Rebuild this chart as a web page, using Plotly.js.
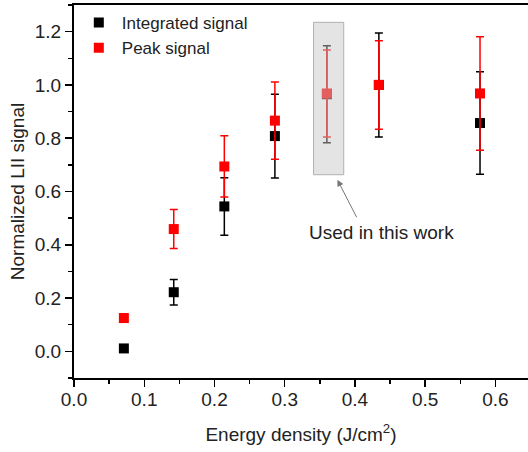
<!DOCTYPE html>
<html>
<head>
<meta charset="utf-8">
<script src="https://cdn.plot.ly/plotly-3.0.1.min.js"></script>
<style>html,body{margin:0;padding:0;background:#fff;}#chart{width:528px;height:452px;}</style>
</head>
<body>
<div id="chart"></div>
<script>
// Energy density (J/cm^2)
const energyDensity = [0.071, 0.142, 0.214, 0.286, 0.360, 0.434, 0.578];
// Integrated signal
const integratedSignal = [0.011, 0.222, 0.544, 0.808, 0.965, 1.000, 0.857];
const integratedError  = [0.010, 0.048, 0.108, 0.157, 0.182, 0.195, 0.192];
// Peak signal
const peakSignal = [0.125, 0.459, 0.694, 0.866, 0.968, 1.000, 0.968];
const peakError  = [0.015, 0.073, 0.115, 0.145, 0.163, 0.166, 0.213];

const legendNames = ['Integrated signal', 'Peak signal'];
const highlightX = [0.341, 0.384];
const highlightY = [0.663, 1.235];
const annotationText = 'Used in this work';

const font = 'Arial, "Liberation Sans", sans-serif';
const txt = '#222222';

const traces = [
  {
    x: energyDensity, y: integratedSignal, name: legendNames[0],
    type: 'scatter', mode: 'markers',
    marker: {symbol: 'square', size: 10, color: '#000000'},
    error_y: {type: 'data', array: integratedError, visible: true, color: '#000000', thickness: 1.5, width: 4}
  },
  {
    x: energyDensity, y: peakSignal, name: legendNames[1],
    type: 'scatter', mode: 'markers',
    marker: {symbol: 'square', size: 10, color: '#ff0000'},
    error_y: {type: 'data', array: peakError, visible: true, color: '#ff0000', thickness: 1.5, width: 4}
  }
];

const layout = {
  width: 528, height: 452,
  margin: {l: 74, r: 0, t: 5, b: 74, pad: 0},
  paper_bgcolor: '#ffffff', plot_bgcolor: '#ffffff',
  font: {family: font, size: 18, color: txt},
  showlegend: true,
  legend: {x: 0.004, y: 1.0, xanchor: 'left', yanchor: 'top', bgcolor: 'rgba(0,0,0,0)',
           font: {family: font, size: 17, color: txt}, tracegroupgap: 0, itemwidth: 36},
  xaxis: {
    range: [0, 0.6463], tickvals: [0, 0.1, 0.2, 0.3, 0.4, 0.5, 0.6],
    ticktext: ['0.0', '0.1', '0.2', '0.3', '0.4', '0.5', '0.6'],
    ticks: 'outside', ticklen: 7, tickwidth: 1.5, tickcolor: '#000', ticklabelstandoff: -4,
    minor: {dtick: 0.05, tick0: 0, ticks: 'outside', ticklen: 4, tickwidth: 1.5, tickcolor: '#000'},
    showline: true, linewidth: 2, linecolor: '#000', mirror: true,
    showgrid: false, zeroline: false,
    tickfont: {family: font, size: 19, color: txt},
    title: {text: 'Energy density (J/cm<sup>2</sup>)', font: {family: font, size: 19, color: txt}, standoff: 19}
  },
  yaxis: {
    range: [-0.1, 1.3], tickvals: [0, 0.2, 0.4, 0.6, 0.8, 1.0, 1.2],
    ticktext: ['0.0', '0.2', '0.4', '0.6', '0.8', '1.0', '1.2'],
    ticks: 'outside', ticklen: 7, tickwidth: 1.5, tickcolor: '#000',
    minor: {dtick: 0.1, tick0: -0.1, ticks: 'outside', ticklen: 4, tickwidth: 1.5, tickcolor: '#000'},
    showline: true, linewidth: 2, linecolor: '#000', mirror: false,
    showgrid: false, zeroline: false,
    tickfont: {family: font, size: 19, color: txt},
    title: {text: 'Normalized LII signal', font: {family: font, size: 19, color: txt}, standoff: 5}
  },
  shapes: [
    {type: 'rect', xref: 'x', yref: 'y', x0: highlightX[0], x1: highlightX[1], y0: highlightY[0], y1: highlightY[1],
     fillcolor: 'rgba(199,199,199,0.48)', line: {color: 'rgba(170,170,170,0.9)', width: 1}, layer: 'above'}
  ],
  annotations: [
    {x: 0.375, y: 0.644, xref: 'x', yref: 'y', text: '', showarrow: true,
     ax: 20, ay: 39, arrowhead: 2, arrowsize: 1.3, arrowwidth: 1, arrowcolor: '#777777', standoff: 0},
    {x: 0.4376, y: 0.447, xref: 'x', yref: 'y', text: annotationText, showarrow: false,
     font: {family: font, size: 19, color: txt}, xanchor: 'center', yanchor: 'middle'}
  ]
};

Plotly.newPlot('chart', traces, layout, {displayModeBar: false, staticPlot: true});
</script>
</body>
</html>
